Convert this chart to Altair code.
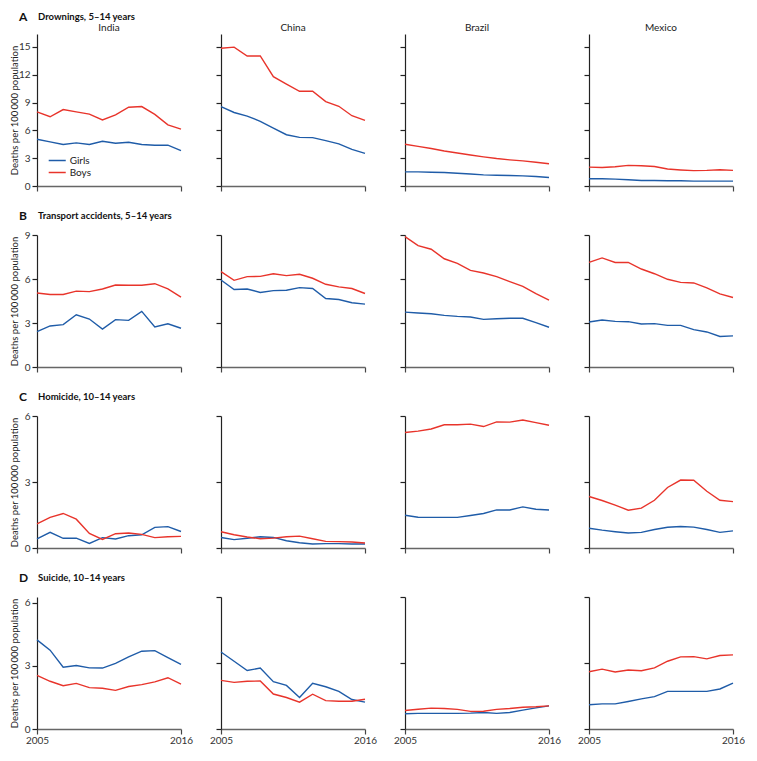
import altair as alt
import pandas as pd

# ---------------- data ----------------
years = list(range(2005, 2017))
countries = ["India", "China", "Brazil", "Mexico"]
sexes = ["Girls", "Boys"]
row_letters = ["A", "B", "C", "D"]
row_titles = [
    "Drownings, 5–14 years",
    "Transport accidents, 5–14 years",
    "Homicide, 10–14 years",
    "Suicide, 10–14 years",
]
y_ticks = [[0, 3, 6, 9, 12, 15], [0, 3, 6, 9], [0, 3, 6], [0, 3, 6]]
y_max = [[16.4, 16.4, 16.4, 16.4], [9, 9, 9, 9], [6, 6, 6, 6], [6.28, 6, 6, 6]]
x_ticks = [2005, 2016]
y_title = "Deaths per 100\u2009000 population"

# A: Drownings, 5-14 years
drown_india_girls = [5.04, 4.76, 4.48, 4.65, 4.48, 4.83, 4.62, 4.72, 4.48, 4.40, 4.40, 3.81]
drown_india_boys = [8.00, 7.47, 8.25, 8.00, 7.75, 7.12, 7.68, 8.50, 8.57, 7.72, 6.60, 6.13]
drown_china_girls = [8.57, 7.93, 7.54, 6.98, 6.24, 5.53, 5.25, 5.22, 4.90, 4.55, 3.95, 3.52]
drown_china_boys = [14.87, 14.98, 14.03, 14.03, 11.80, 11.00, 10.22, 10.22, 9.10, 8.60, 7.58, 7.08]
drown_brazil_girls = [1.52, 1.52, 1.48, 1.45, 1.38, 1.30, 1.20, 1.16, 1.13, 1.09, 1.02, 0.92]
drown_brazil_boys = [4.51, 4.27, 4.05, 3.77, 3.56, 3.35, 3.14, 2.96, 2.82, 2.71, 2.57, 2.40]
drown_mexico_girls = [0.78, 0.78, 0.74, 0.67, 0.60, 0.60, 0.56, 0.56, 0.53, 0.53, 0.53, 0.53]
drown_mexico_boys = [2.04, 2.00, 2.08, 2.22, 2.19, 2.10, 1.83, 1.73, 1.66, 1.69, 1.76, 1.69]

# B: Transport accidents, 5-14 years
transport_india_girls = [2.41, 2.80, 2.89, 3.56, 3.27, 2.59, 3.23, 3.18, 3.79, 2.73, 2.95, 2.64]
transport_india_boys = [5.05, 4.94, 4.94, 5.17, 5.14, 5.32, 5.59, 5.57, 5.57, 5.68, 5.32, 4.76]
transport_china_girls = [5.93, 5.28, 5.32, 5.08, 5.21, 5.23, 5.41, 5.35, 4.67, 4.60, 4.38, 4.29]
transport_china_boys = [6.50, 5.91, 6.16, 6.18, 6.36, 6.23, 6.32, 6.05, 5.64, 5.46, 5.35, 5.01]
transport_brazil_girls = [3.74, 3.68, 3.63, 3.52, 3.45, 3.41, 3.25, 3.29, 3.32, 3.32, 3.02, 2.71]
transport_brazil_boys = [8.89, 8.28, 8.03, 7.38, 7.06, 6.59, 6.41, 6.16, 5.82, 5.50, 5.00, 4.56]
transport_mexico_girls = [3.07, 3.20, 3.11, 3.09, 2.93, 2.96, 2.84, 2.84, 2.55, 2.39, 2.08, 2.12]
transport_mexico_boys = [7.13, 7.44, 7.13, 7.13, 6.68, 6.36, 5.98, 5.77, 5.73, 5.39, 4.99, 4.74]

# C: Homicide, 10-14 years
homicide_india_girls = [0.41, 0.71, 0.44, 0.45, 0.21, 0.47, 0.41, 0.56, 0.60, 0.94, 0.97, 0.75]
homicide_india_boys = [1.10, 1.39, 1.57, 1.31, 0.66, 0.39, 0.65, 0.68, 0.62, 0.47, 0.51, 0.53]
homicide_china_girls = [0.48, 0.38, 0.44, 0.51, 0.48, 0.33, 0.24, 0.18, 0.20, 0.20, 0.18, 0.18]
homicide_china_boys = [0.74, 0.60, 0.50, 0.42, 0.45, 0.51, 0.54, 0.42, 0.30, 0.29, 0.27, 0.23]
homicide_brazil_girls = [1.49, 1.40, 1.39, 1.39, 1.39, 1.48, 1.57, 1.73, 1.73, 1.87, 1.76, 1.73]
homicide_brazil_boys = [5.25, 5.31, 5.41, 5.60, 5.60, 5.63, 5.52, 5.73, 5.72, 5.82, 5.70, 5.58]
homicide_mexico_girls = [0.90, 0.81, 0.74, 0.68, 0.71, 0.84, 0.94, 0.98, 0.95, 0.84, 0.71, 0.78]
homicide_mexico_boys = [2.34, 2.16, 1.95, 1.72, 1.81, 2.17, 2.75, 3.09, 3.08, 2.58, 2.17, 2.11]

# D: Suicide, 10-14 years
suicide_india_girls = [4.24, 3.75, 2.94, 3.02, 2.91, 2.90, 3.12, 3.43, 3.70, 3.73, 3.40, 3.07]
suicide_india_boys = [2.55, 2.27, 2.06, 2.17, 1.97, 1.94, 1.84, 2.02, 2.11, 2.24, 2.44, 2.14]
suicide_china_girls = [3.50, 3.08, 2.66, 2.77, 2.15, 1.98, 1.43, 2.08, 1.92, 1.71, 1.34, 1.22]
suicide_china_boys = [2.21, 2.12, 2.17, 2.18, 1.59, 1.43, 1.22, 1.58, 1.29, 1.26, 1.26, 1.35]
suicide_brazil_girls = [0.69, 0.71, 0.71, 0.71, 0.71, 0.72, 0.75, 0.71, 0.75, 0.86, 0.96, 1.05]
suicide_brazil_boys = [0.84, 0.90, 0.95, 0.93, 0.89, 0.80, 0.81, 0.89, 0.93, 0.99, 1.01, 1.05]
suicide_mexico_girls = [1.10, 1.14, 1.14, 1.25, 1.37, 1.47, 1.71, 1.71, 1.71, 1.71, 1.82, 2.09]
suicide_mexico_boys = [2.60, 2.72, 2.59, 2.68, 2.65, 2.78, 3.08, 3.28, 3.29, 3.19, 3.34, 3.37]

DATA = [
    [(drown_india_girls, drown_india_boys), (drown_china_girls, drown_china_boys),
     (drown_brazil_girls, drown_brazil_boys), (drown_mexico_girls, drown_mexico_boys)],
    [(transport_india_girls, transport_india_boys), (transport_china_girls, transport_china_boys),
     (transport_brazil_girls, transport_brazil_boys), (transport_mexico_girls, transport_mexico_boys)],
    [(homicide_india_girls, homicide_india_boys), (homicide_china_girls, homicide_china_boys),
     (homicide_brazil_girls, homicide_brazil_boys), (homicide_mexico_girls, homicide_mexico_boys)],
    [(suicide_india_girls, suicide_india_boys), (suicide_china_girls, suicide_china_boys),
     (suicide_brazil_girls, suicide_brazil_boys), (suicide_mexico_girls, suicide_mexico_boys)],
]

# ---------------- style ----------------
FONT = "Lato"
BLUE = "#1f5ca8"
RED = "#e8342b"
PANEL_W = 144
ROW_H = [152, 132, 132, 132]


def panel(r, c):
    girls, boys = DATA[r][c]
    h = ROW_H[r]
    df = pd.DataFrame({
        "year": years + years,
        "value": girls + boys,
        "sex": [sexes[0]] * len(years) + [sexes[1]] * len(years),
    })

    x_axis = dict(values=x_ticks, format="d", tickSize=5, labelPadding=1,
                  domainColor="#666666", domainWidth=1.5, tickColor="#444444",
                  tickWidth=1.2, labels=(r == 3), labelFlush=False, grid=False,
                  title=None)
    y_axis = dict(values=y_ticks[r], tickSize=5, labelPadding=2,
                  domainColor="#222222", domainWidth=1.2, tickColor="#222222",
                  tickWidth=1.2, labels=(c == 0), grid=False)
    if c == 0:
        y_axis.update(title=y_title, titleX=-18, titleY=h / 2,
                      titleBaseline="bottom", titleAlign="center", titleAngle=270)
    else:
        y_axis.update(title=None)

    if r == 0 and c == 0:
        legend = alt.Legend(title=None, orient="none", legendX=10.7, legendY=120,
                            symbolType="M-1,0H2.1", symbolSize=121,
                            symbolStrokeWidth=1.5, labelOffset=9, rowPadding=0,
                            padding=0, labelFontSize=10, labelFont=FONT,
                            labelColor="#222222")
    else:
        legend = None

    lines = alt.Chart(df).mark_line(strokeWidth=1.4).encode(
        x=alt.X("year:Q", scale=alt.Scale(domain=[2005, 2016], nice=False, zero=False),
                axis=alt.Axis(**x_axis)),
        y=alt.Y("value:Q", scale=alt.Scale(domain=[0, y_max[r][c]], nice=False, zero=True),
                axis=alt.Axis(**y_axis)),
        color=alt.Color("sex:N", scale=alt.Scale(domain=sexes, range=[BLUE, RED]),
                        legend=legend),
    )
    layers = [lines]

    if c == 0:
        ty = -17 if r == 0 else -19
        letter = alt.Chart(pd.DataFrame({"t": [row_letters[r]]})).mark_text(
            align="left", baseline="middle", font=FONT, fontSize=12, fontWeight="bold",
            color="#111111").encode(text="t:N", x=alt.value(-18), y=alt.value(ty))
        title = alt.Chart(pd.DataFrame({"t": [row_titles[r]]})).mark_text(
            align="left", baseline="middle", font=FONT, fontSize=9.5, fontWeight="bold",
            color="#111111").encode(text="t:N", x=alt.value(1), y=alt.value(ty))
        layers += [letter, title]

    if r == 0:
        col_title = alt.Chart(pd.DataFrame({"t": [countries[c]]})).mark_text(
            align="center", baseline="middle", font=FONT, fontSize=10,
            color="#222222").encode(text="t:N", x=alt.value(PANEL_W / 2), y=alt.value(-6))
        layers.append(col_title)

    return alt.layer(*layers).properties(width=PANEL_W, height=h)


panels = [panel(r, c) for r in range(4) for c in range(4)]

chart = alt.concat(
    *panels, columns=4, spacing={"row": 49, "column": 40}, bounds="flush"
).resolve_scale(
    color="independent"
).properties(
    padding={"top": 3, "left": 0, "right": 0, "bottom": 0}, background="white"
).configure_view(
    stroke=None
).configure_axis(
    labelFont=FONT, titleFont=FONT, labelFontSize=10, titleFontSize=9.5,
    labelColor="#333333", titleColor="#222222", titleFontWeight="normal"
)

chart.save("out.html", embed_options={"renderer": "svg", "actions": False})
